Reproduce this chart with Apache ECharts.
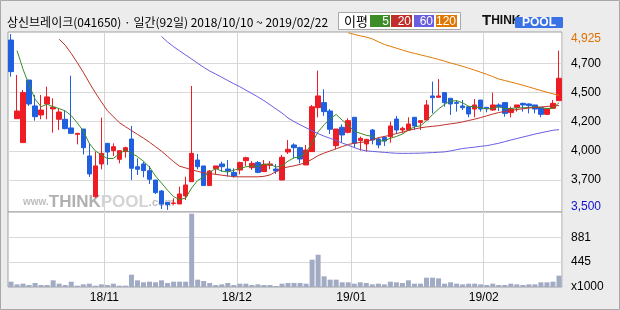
<!DOCTYPE html>
<html><head><meta charset="utf-8">
<script src="https://cdn.jsdelivr.net/npm/echarts@6/dist/echarts.min.js"></script>
<style>html,body{margin:0;padding:0;background:#ececec}#c{width:620px;height:310px}</style>
</head><body><div id="c"></div>
<script>
// ---------- data ----------
const dates = [
'18/10/10','18/10/11','18/10/12','18/10/15','18/10/16','18/10/17','18/10/18','18/10/19','18/10/22','18/10/23','18/10/24','18/10/25','18/10/26','18/10/29','18/10/30','18/10/31',
'18/11/01','18/11/02','18/11/05','18/11/06','18/11/07','18/11/08','18/11/09','18/11/12','18/11/13','18/11/14','18/11/15','18/11/16','18/11/19','18/11/20','18/11/21','18/11/22','18/11/23','18/11/26','18/11/27','18/11/28','18/11/29','18/11/30',
'18/12/03','18/12/04','18/12/05','18/12/06','18/12/07','18/12/10','18/12/11','18/12/12','18/12/13','18/12/14','18/12/17','18/12/18','18/12/19','18/12/20','18/12/21','18/12/24','18/12/26','18/12/27','18/12/28',
'19/01/02','19/01/03','19/01/04','19/01/07','19/01/08','19/01/09','19/01/10','19/01/11','19/01/14','19/01/15','19/01/16','19/01/17','19/01/18','19/01/21','19/01/22','19/01/23','19/01/24','19/01/25','19/01/28','19/01/29','19/01/30','19/01/31',
'19/02/01','19/02/07','19/02/08','19/02/11','19/02/12','19/02/13','19/02/14','19/02/15','19/02/18','19/02/19','19/02/20','19/02/21','19/02/22'];

const openP = [4876,4239,4045,4552,4342,4269,4358,4318,4234,4234,4164,4112,4155,3937,3607,3872,
4039,3980,3910,3972,4074,3850,3872,3818,3742,3653,3559,3551,3548,3613,3729,3904,3856,3697,3834,3872,3831,3804,
3823,3899,3842,3883,3810,3861,3831,3742,3969,4026,4004,3864,3972,4328,4369,4301,4020,4169,4128,
4250,4061,4034,4147,4074,4088,4093,4236,4147,4147,4250,4209,4228,4423,4412,4450,4404,4369,4342,4336,4317,4390,
4331,4309,4350,4369,4288,4331,4363,4358,4350,4328,4274,4323,4385];
const closeP = [4620,4301,4450,4358,4255,4309,4415,4333,4293,4158,4120,4120,4004,3791,3856,3958,
3969,4012,3980,4004,3837,3829,3818,3748,3640,3548,3543,3556,3629,3702,3958,3850,3697,3815,3856,3850,3815,3775,
3883,3923,3877,3804,3869,3872,3815,3926,3991,4004,3912,3985,4336,4423,4296,4153,4155,4107,4223,
4039,4080,4072,4066,4026,4058,4180,4147,4161,4196,4180,4223,4350,4409,4423,4369,4358,4363,4328,4277,4350,4317,
4320,4350,4336,4282,4317,4350,4350,4344,4317,4274,4320,4363,4566];
const lowP = [4579,4239,4045,4342,4223,4234,4234,4126,4147,4153,4120,4031,3948,3767,3599,3829,
3864,3937,3877,3923,3742,3783,3764,3710,3629,3507,3500,3545,3548,3580,3729,3829,3697,3697,3788,3810,3769,3761,
3788,3856,3823,3796,3810,3829,3791,3742,3953,3918,3877,3864,3972,4250,4261,4115,3991,4045,4120,
4004,3980,3972,4031,3999,4018,4045,4115,4120,4147,4147,4147,4228,4282,4412,4336,4269,4296,4309,4250,4250,4296,
4290,4304,4301,4255,4250,4296,4296,4282,4282,4250,4269,4317,4385];
const highP = [4925,4593,4471,4552,4431,4431,4498,4404,4320,4304,4587,4120,4155,4039,3972,4247,
4039,4039,3980,4012,4180,3918,3891,3856,3742,3661,3559,3594,3688,3769,4504,3953,3856,3823,3856,3891,3904,3837,
3891,3931,3896,3896,3904,3896,3872,3945,4066,4039,4012,4026,4350,4628,4477,4317,4155,4193,4242,
4250,4094,4072,4155,4088,4099,4215,4261,4174,4250,4250,4223,4390,4539,4560,4450,4404,4390,4390,4342,4398,4390,
4331,4450,4363,4369,4336,4350,4369,4363,4350,4328,4320,4390,4790];

// volume, x1000 shares
const volume = [94,47,59,35,71,35,35,118,59,35,94,24,47,59,24,47,
35,59,24,24,218,118,83,94,83,118,71,94,94,94,1298,130,106,71,35,47,71,35,
59,59,35,47,35,35,18,59,71,71,71,59,484,572,189,130,130,83,83,
59,83,71,47,59,47,94,83,71,118,59,59,165,165,153,59,83,59,47,59,59,47,
35,59,35,35,59,47,35,47,47,83,83,94,201];

// moving averages as drawn (null where the line is not shown)
const ma5 = [null,4790,4639,4512,4397,4335,4357,4334,4321,4302,4264,4205,4139,4039,3978,3946,
3916,3917,3955,3985,3960,3932,3894,3847,3774,3717,3659,3607,3583,3596,3678,3739,3767,3804,3835,3814,3807,3822,
3836,3849,3855,3852,3871,3869,3847,3857,3895,3922,3930,3964,4046,4132,4190,4239,4273,4227,4187,
4135,4121,4104,4096,4057,4060,4080,4095,4114,4148,4173,4181,4222,4272,4317,4355,4382,4384,4368,4339,4335,4327,
4318,4323,4335,4321,4321,4327,4327,4329,4336,4327,4321,4324,4368];
const ma20 = [null,null,null,null,null,null,null,null,4883,4834,4767,4693,4615,4530,4449,4375,
4304,4255,4206,4174,4143,4112,4081,4048,4012,3975,3933,3891,3854,3840,3826,3812,3800,3794,3788,3781,3775,3769,
3768,3768,3768,3768,3772,3783,3810,3835,3848,3857,3869,3884,3910,3940,3960,3978,3995,4013,4030,
4040,4046,4053,4068,4085,4095,4105,4118,4130,4143,4155,4165,4172,4177,4182,4190,4197,4204,4213,4224,4235,4248,
4262,4276,4289,4297,4305,4313,4319,4325,4330,4334,4338,4342,4345];
const ma60 = [null,null,null,null,null,null,null,null,null,null,null,null,null,null,null,null,
null,null,null,null,null,null,null,null,null,4905,4860,4822,4788,4755,4722,4688,4655,4625,4600,4574,4548,4522,
4498,4470,4443,4415,4385,4352,4318,4285,4245,4215,4190,4165,4140,4118,4097,4080,4062,4042,4024,
4005,3988,3978,3974,3970,3966,3962,3959,3958,3958,3959,3960,3962,3964,3967,3970,3978,3988,3997,4003,4008,4015,
4020,4030,4040,4053,4066,4078,4090,4102,4114,4125,4135,4145,4150];
const ma120 = [null,null,null,null,null,null,null,null,null,null,null,null,null,null,null,null,
null,null,null,null,null,null,null,null,null,null,null,null,null,null,null,null,null,null,null,null,null,null,
null,null,null,null,null,null,null,null,null,null,null,null,null,null,null,null,null,null,4935,
4922,4910,4900,4885,4862,4840,4825,4810,4795,4780,4768,4756,4744,4732,4719,4705,4690,4677,4663,4648,4632,4615,
4598,4580,4560,4548,4536,4523,4510,4496,4481,4467,4453,4440,4428];

// axis ticks
const priceGridValues = [3742, 3978.5, 4215, 4451.5, 4688];
const priceLabelValues = [3526, 3742, 3978.5, 4215, 4451.5, 4688, 4890];
const priceTickLabels = ['3,500','3,700','4,000','4,200','4,500','4,700','4,925'];
const volGridValues = [445, 881];
const volLabelValues = [0, 445, 881];
const volTickLabels = ['x1000','445','881'];

const maNames = ['5','20','60','120'];
const maColors = ['#3c8c28','#c0302a','#6a5ee0','#e07800'];

// ---------- chart ----------
const chart = echarts.init(document.getElementById('c'), null, {renderer:'canvas'});
const isMonthStart = i => i > 0 && dates[i].slice(0,5) !== dates[i-1].slice(0,5);
const nearest = (arr, v) => { let b=0; for (let k=1;k<arr.length;k++) if (Math.abs(arr[k]-v) < Math.abs(arr[b]-v)) b=k; return b; };
const candles = dates.map((d,i) => [openP[i], closeP[i], lowP[i], highP[i]]);
const FONT = 'Liberation Sans';

const xCommon = {
  type:'category', data: dates, boundaryGap: true,
  axisLine:{show:false}, axisTick:{show:false},
  splitLine:{show:true, interval:(i)=>isMonthStart(i), lineStyle:{color:'#d4d4d4', width:1}}
};

const legendItems = [];
const boxX = [370, 391, 414, 436], boxW = [20, 21, 20, 21];
maNames.forEach((n,k) => {
  legendItems.push({type:'rect', shape:{x:boxX[k], y:15, width:boxW[k], height:12}, style:{fill:maColors[k]}, z:10});
  legendItems.push({type:'text', x:boxX[k]+boxW[k]-1, y:21.5, style:{text:n, fill:'#fff', font:'12px '+FONT, textAlign:'right', textVerticalAlign:'middle'}, z:11});
});

chart.setOption({
  animation:false,
  backgroundColor:'#ececec',
  grid:[
    {left:8, width:554, top:32, height:180, show:true, backgroundColor:'#fff', borderColor:'#a0a0a0', borderWidth:1},
    {left:8, width:554, top:212, height:75, show:true, backgroundColor:'#fff', borderColor:'#a0a0a0', borderWidth:1}
  ],
  xAxis:[
    Object.assign({gridIndex:0, axisLabel:{show:false}}, xCommon),
    Object.assign({gridIndex:1, axisLabel:{show:true, interval:(i)=>isMonthStart(i), formatter:(v)=>v.slice(0,5),
      color:'#000', fontFamily:FONT, fontSize:12, margin:5, padding:[0,6,0,0]}}, xCommon)
  ],
  yAxis:[
    {type:'value', gridIndex:0, position:'right', min:3483, max:4941, scale:true,
     axisLine:{show:false},
     axisTick:{show:false, customValues: priceGridValues},
     splitLine:{show:true, lineStyle:{color:'#d9d9d9', width:1}},
     axisLabel:{customValues: priceLabelValues, margin:9, fontFamily:FONT, fontSize:12, color:'#000',
       formatter:(v)=>{ const k = nearest(priceLabelValues, +v); const t = priceTickLabels[k];
         return k===priceTickLabels.length-1 ? '{o|'+t+'}' : (k===0 ? '{b|'+t+'}' : t); },
       rich:{o:{color:'#e07000', fontFamily:FONT, fontSize:12}, b:{color:'#1010d0', fontFamily:FONT, fontSize:12}}}
    },
    {type:'value', gridIndex:1, position:'right', min:0, max:1328,
     axisLine:{show:false},
     axisTick:{show:false, customValues: volGridValues},
     splitLine:{show:true, lineStyle:{color:'#d9d9d9', width:1}},
     axisLabel:{customValues: volLabelValues, margin:9, fontFamily:FONT, fontSize:12, color:'#000',
       formatter:(v)=> volTickLabels[nearest(volLabelValues, +v)]}
    }
  ],
  graphic:[
    {type:'rect', shape:{x:0.5, y:0.5, width:619, height:309}, style:{fill:'none', stroke:'#a8a8a8', lineWidth:1}, z:0},
    {type:'text', x:7, y:22, style:{text:'상신브레이크(041650) · 일간(92일) 2018/10/10 ~ 2019/02/22', fill:'#000',
      font:'12px "Noto Sans CJK KR"', textVerticalAlign:'middle'}, z:10},
    {type:'rect', shape:{x:338.5, y:12.5, width:122, height:17}, style:{fill:'#fff', stroke:'#a8a8a8', lineWidth:1}, z:9},
    {type:'text', x:344, y:21.5, style:{text:'이평', fill:'#000', font:'13px "Noto Sans CJK KR"', textVerticalAlign:'middle'}, z:10},
    ...legendItems,
    {type:'text', x:482, y:28.5, style:{text:'{a|T}{b|HINK}', textVerticalAlign:'bottom',
      rich:{a:{font:'900 15px '+FONT, fill:'#111'}, b:{font:'900 12px '+FONT, fill:'#111'}}}, z:10},
    {type:'rect', shape:{x:515, y:17, width:48, height:11, r:1}, style:{fill:'#3872e6'}, z:10},
    {type:'text', x:539, y:22.8, style:{text:'POOL', fill:'#fff', font:'bold 12px '+FONT, textAlign:'center', textVerticalAlign:'middle'}, z:11},
    {type:'text', x:23, y:211, style:{text:'{w|www.}{t|THINK}{p|POOL}{c|.com}', textVerticalAlign:'bottom',
      rich:{w:{font:'bold 10px '+FONT, fill:'#bdbdbd'}, t:{font:'bold 17px '+FONT, fill:'#b0b0b0'},
            p:{font:'bold 17px '+FONT, fill:'#d4d4d4'}, c:{font:'bold 11px '+FONT, fill:'#bdbdbd'}}}, z:1}
  ],
  series:[
    {type:'candlestick', xAxisIndex:0, yAxisIndex:0, data:candles, barWidth:5, z:3,
     itemStyle:{color:'#ee1c24', color0:'#1f5fe0', borderColor:'#ee1c24', borderColor0:'#1f5fe0', borderWidth:1}},
    {type:'line', name:'MA5', xAxisIndex:0, yAxisIndex:0, data:ma5, symbol:'none', z:4, lineStyle:{color:maColors[0], width:1}},
    {type:'line', name:'MA20', xAxisIndex:0, yAxisIndex:0, data:ma20, symbol:'none', z:4, lineStyle:{color:maColors[1], width:1}},
    {type:'line', name:'MA60', xAxisIndex:0, yAxisIndex:0, data:ma60, symbol:'none', z:4, lineStyle:{color:maColors[2], width:1}},
    {type:'line', name:'MA120', xAxisIndex:0, yAxisIndex:0, data:ma120, symbol:'none', z:4, lineStyle:{color:maColors[3], width:1}},
    {type:'bar', xAxisIndex:1, yAxisIndex:1, data:volume, barWidth:5, itemStyle:{color:'#a2abc4'}}
  ]
});
</script></body></html>
